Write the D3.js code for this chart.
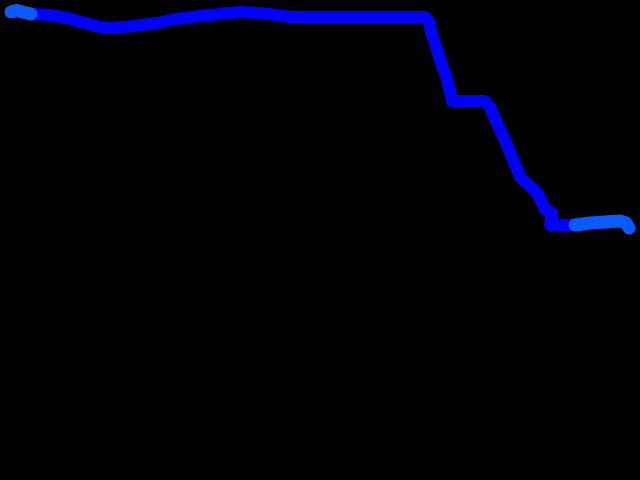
<!DOCTYPE html>
<html>
<head>
<meta charset="utf-8">
<script src="https://cdn.jsdelivr.net/npm/d3@7"></script>
<style>
html,body{margin:0;padding:0;background:#000;overflow:hidden;}
svg{display:block;}
</style>
</head>
<body>
<svg id="chart" width="640" height="480"></svg>
<script>
// Start segment (lighter blue)
const startX = [11, 17, 22, 27, 31];
const startY = [12, 10.5, 12, 13, 14];
// Main segment (blue)
const mainX = [31, 50, 67, 85, 100, 110, 133, 157, 175, 200, 220, 240, 262, 290, 320, 360, 400, 425, 429, 431, 440, 447, 452, 470, 485, 490, 508, 515, 520, 537, 542, 545, 552, 550, 560, 575];
const mainY = [14, 15, 18, 23, 27, 28, 26, 23, 19, 16, 14, 12, 13, 17, 17, 17, 17, 17, 22, 32, 60, 80, 101, 101, 101, 108, 148, 165, 177, 193, 203, 210, 213, 225, 225, 225];
// End segment (lighter blue)
const endX = [575, 590, 605, 620, 626, 629];
const endY = [225, 223, 222, 221, 223, 228];

const svg = d3.select('#chart');
const W = 640, H = 480;
svg.append('rect').attr('width', W).attr('height', H).attr('fill', '#000');

const x = d3.scaleLinear().domain([0, 640]).range([0, W]);
const y = d3.scaleLinear().domain([0, 480]).range([0, H]);

const line = d3.line().x(d => x(d[0])).y(d => y(d[1])).curve(d3.curveLinear);
const zip = (a, b) => a.map((v, i) => [v, b[i]]);

svg.append('path').datum(zip(mainX, mainY))
  .attr('d', line).attr('fill', 'none').attr('stroke', '#0000ff')
  .attr('stroke-width', 12).attr('stroke-linejoin', 'round').attr('stroke-linecap', 'round');

[[startX, startY], [endX, endY]].forEach(([a, b]) => {
  svg.append('path').datum(zip(a, b))
    .attr('d', line).attr('fill', 'none').attr('stroke', '#0a5aff')
    .attr('stroke-width', 13).attr('stroke-linejoin', 'round').attr('stroke-linecap', 'round');
});
</script>
</body>
</html>
